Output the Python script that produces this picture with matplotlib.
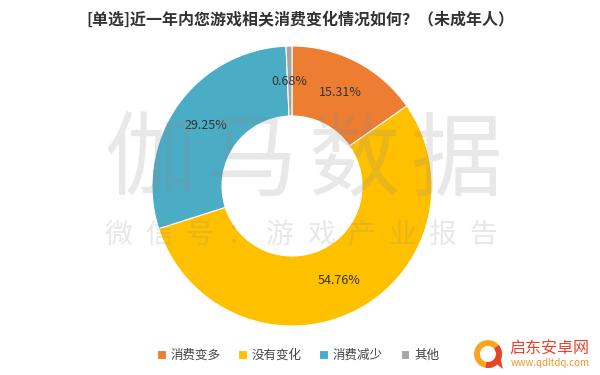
import numpy as np
import matplotlib
matplotlib.use('Agg')
import matplotlib.pyplot as plt
from matplotlib.patches import Wedge, Polygon

plt.rcParams['font.family'] = ['Noto Sans CJK SC', 'DejaVu Sans']

# data
labels = ['消费变多', '没有变化', '消费减少', '其他']
values = [15.31, 54.76, 29.25, 0.68]
colors = ['#ED7D31', '#FFC000', '#4BACC6', '#A5A5A5']
title = '[单选]近一年内您游戏相关消费变化情况如何？（未成年人）'

fig = plt.figure(figsize=(6, 3.75), dpi=100)

# donut: centre (292,186) px, radius 140 px
ax = fig.add_axes([152/600, 49/375, 280/600, 280/375])
wedges, texts, autotexts = ax.pie(values, colors=colors, startangle=90, counterclock=False,
                                  radius=1, autopct='%.2f%%', pctdistance=0.75,
                                  wedgeprops=dict(width=0.5, edgecolor='white', linewidth=0.8),
                                  textprops=dict(fontsize=9, color='#333333'))
ax.set_xlim(-1, 1)
ax.set_ylim(-1, 1)

fig.text(300/600, 1 - 20/375, title, ha='center', va='center', fontsize=11.5,
         fontweight='bold', color='#333333')

fig.legend(wedges, labels, loc='center', bbox_to_anchor=(298/600, 1 - 355/375), ncol=4,
           frameon=False, handlelength=0.7, handleheight=0.7, handletextpad=0.4,
           columnspacing=1.4, fontsize=9, labelcolor='#444444')

# overlay in pixel coords for watermark and logo
ov = fig.add_axes([0, 0, 1, 1], zorder=5)
ov.set_xlim(0, 600)
ov.set_ylim(375, 0)
ov.axis('off')
ov.patch.set_alpha(0)

for ch, x in zip('伽马数据', np.linspace(150, 456, 4)):
    ov.text(x, 163, ch, ha='center', va='center', fontsize=66, color='#8c8c8c', alpha=0.2)
for ch, x in zip('微信号：游戏产业报告', np.linspace(118, 483, 10)):
    ov.text(x, 235, ch, ha='center', va='center', fontsize=20, color='#8c8c8c', alpha=0.2)

# logo
ov.add_patch(Wedge((488, 354), 14, 0, 360, width=6, color='#F6A623', lw=0))
ov.add_patch(Wedge((488, 354), 14, -40, 100, width=6, color='#E8432D', lw=0))
ov.add_patch(Polygon([[494, 362], [503, 369], [500, 357]], closed=True, color='#E8432D', lw=0))
ov.text(549, 349, '启东安卓网', ha='center', va='center', fontsize=11.5, color='#E8432D')
ov.text(550, 363, 'www.qdltdq.com', ha='center', va='center', fontsize=7, color='#F0962A')

fig.savefig('out.png', dpi=100)
